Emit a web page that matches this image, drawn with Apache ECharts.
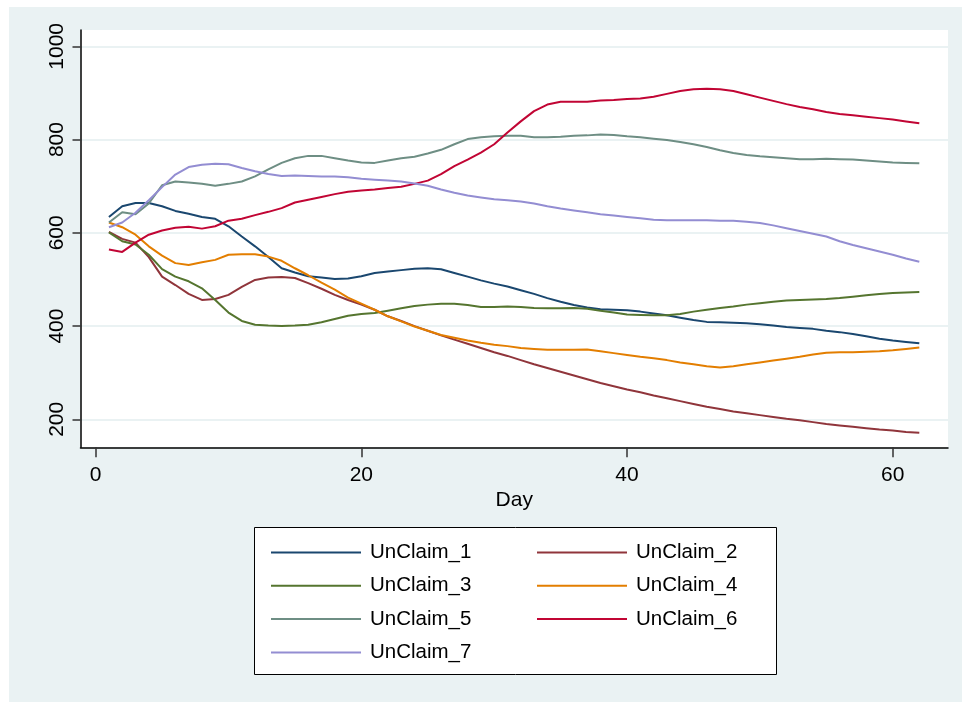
<!DOCTYPE html>
<html>
<head>
<meta charset="utf-8">
<script src="https://cdn.jsdelivr.net/npm/echarts@6/dist/echarts.min.js"></script>
<style>
html, body { margin: 0; padding: 0; background: #fff; }
#chart { width: 962px; height: 702px; }
</style>
</head>
<body>
<div id="chart"></div>
<script>
// values read per day (day 1 .. 62)
const unClaim1 = [634, 657, 664, 664, 657, 647, 641, 634, 630, 614, 592, 571, 548, 524, 515, 507, 504, 501, 502, 507,
  514, 517, 520, 523, 524, 522, 514, 506, 498, 491, 485, 477, 469, 460, 452, 445, 440, 436, 435, 434,
  431, 427, 423, 418, 413, 409, 408, 407, 406, 404, 401, 398, 396, 394, 390, 387, 383, 378, 373, 369, 366, 363];
const unClaim2 = [602, 587, 579, 548, 506, 488, 469, 456, 458, 467, 484, 499, 504, 505, 503, 492, 480, 467, 456, 446,
  435, 421, 411, 400, 390, 380, 371, 362, 353, 344, 336, 327, 318, 310, 302, 294, 286, 278, 271, 264,
  258, 251, 245, 239, 233, 227, 222, 217, 213, 209, 205, 201, 198, 194, 190, 187, 184, 181, 178, 176, 173, 171];
const unClaim3 = [601, 582, 575, 553, 522, 506, 496, 481, 456, 429, 411, 403, 401, 400, 401, 403, 408, 415, 422, 426,
  428, 433, 438, 443, 446, 448, 448, 445, 441, 441, 442, 441, 439, 438, 438, 439, 437, 433, 429, 425,
  424, 423, 423, 426, 431, 435, 439, 442, 446, 449, 452, 455, 456, 457, 458, 460, 463, 466, 469, 471, 472, 473];
const unClaim4 = [622, 612, 596, 571, 551, 535, 531, 537, 542, 553, 554, 554, 549, 540, 524, 509, 493, 478, 461, 448,
  435, 421, 410, 399, 390, 381, 375, 369, 364, 360, 357, 353, 351, 349, 349, 349, 350, 346, 342, 338,
  334, 331, 327, 322, 318, 314, 311, 314, 318, 322, 326, 330, 334, 339, 343, 344, 344, 345, 346, 348, 351, 354];
const unClaim5 = [622, 644, 640, 663, 702, 710, 708, 705, 701, 705, 710, 721, 736, 750, 760, 765, 765, 760, 755, 751,
  750, 755, 760, 763, 770, 778, 790, 801, 805, 807, 808, 808, 805, 805, 806, 808, 809, 811, 810, 807,
  805, 802, 799, 795, 790, 784, 777, 771, 767, 764, 762, 760, 758, 758, 759, 758, 757, 755, 753, 751, 750, 749];
const unClaim6 = [564, 559, 579, 596, 605, 611, 613, 609, 614, 626, 630, 638, 645, 653, 665, 671, 677, 683, 688, 691,
  693, 696, 699, 705, 712, 726, 743, 757, 772, 790, 815, 839, 861, 875, 881, 881, 881, 884, 885, 887,
  888, 892, 898, 904, 908, 909, 908, 904, 897, 890, 883, 876, 870, 865, 859, 855, 852, 849, 846, 843, 839, 835];
const unClaim7 = [612, 622, 643, 670, 698, 725, 741, 746, 748, 747, 739, 732, 726, 722, 723, 722, 721, 721, 719, 716,
  714, 712, 710, 706, 701, 693, 686, 680, 676, 672, 670, 667, 663, 657, 652, 648, 644, 640, 637, 634,
  631, 628, 627, 627, 627, 627, 626, 626, 624, 621, 616, 610, 604, 598, 592, 582, 574, 567, 560, 553, 545, 538];

const seriesNames = ['UnClaim_1', 'UnClaim_2', 'UnClaim_3', 'UnClaim_4', 'UnClaim_5', 'UnClaim_6', 'UnClaim_7'];
const seriesColors = ['#1a476f', '#90353b', '#55752f', '#e37e00', '#6e8e84', '#c10534', '#938dd2'];
const xTicks = [0, 20, 40, 60];
const yTicks = [200, 400, 600, 800, 1000];

const allValues = [unClaim1, unClaim2, unClaim3, unClaim4, unClaim5, unClaim6, unClaim7];
const days = unClaim1.map((v, i) => i + 1);

const font = 'Liberation Sans, Arial, Helvetica, sans-serif';
const chart = echarts.init(document.getElementById('chart'));

const legendText = {
  fontFamily: font,
  fontSize: 20.5,
  color: '#000',
  lineHeight: 20,
  padding: [0, 0, 0, 4]
};

// two columns of legend entries, boxed together
const legendCol = (names, left) => ({
  data: names,
  orient: 'vertical',
  left: left,
  top: 537,
  icon: 'rect',
  itemWidth: 90,
  itemHeight: 2,
  itemGap: 12.3,
  selectedMode: false,
  textStyle: legendText
});

chart.setOption({
  animation: false,
  backgroundColor: '#fff',
  textStyle: { fontFamily: font },
  graphic: [
    {
      type: 'rect',
      z: -10,
      silent: true,
      shape: { x: 9, y: 7, width: 953, height: 695 },
      style: { fill: '#eaf2f3' }
    },
    {
      type: 'rect',
      z: 1,
      silent: true,
      shape: { x: 254.5, y: 527.5, width: 522, height: 147 },
      style: { fill: '#fff', stroke: '#000', lineWidth: 1 }
    }
  ],
  grid: {
    left: 80.5,
    right: 14,
    top: 30,
    bottom: 254.7,
    show: true,
    backgroundColor: '#fff',
    borderWidth: 0
  },
  legend: [
    legendCol(['UnClaim_1', 'UnClaim_3', 'UnClaim_5', 'UnClaim_7'], 266),
    legendCol(['UnClaim_2', 'UnClaim_4', 'UnClaim_6'], 532)
  ],
  xAxis: {
    type: 'value',
    min: -1.14,
    max: 64.16,
    name: 'Day',
    nameLocation: 'middle',
    nameGap: 41,
    nameTextStyle: { fontFamily: font, fontSize: 21, color: '#000' },
    axisLine: { show: true, onZero: false, lineStyle: { color: '#000', width: 1.5 } },
    axisTick: { show: true, customValues: xTicks, length: 10, lineStyle: { color: '#333', width: 1.5 } },
    axisLabel: { customValues: xTicks, margin: 17, fontSize: 21, lineHeight: 21, color: '#000', fontFamily: font },
    splitLine: { show: false }
  },
  yAxis: {
    type: 'value',
    min: 140,
    max: 1035,
    axisLine: { show: true, onZero: false, lineStyle: { color: '#000', width: 1.5 } },
    axisTick: { show: true, customValues: yTicks, length: 8, lineStyle: { color: '#333', width: 1.5 } },
    axisLabel: {
      customValues: yTicks,
      formatter: v => String(v),
      rotate: 90,
      margin: 13,
      fontSize: 21,
      lineHeight: 21,
      color: '#000',
      fontFamily: font
    },
    splitLine: { show: true, lineStyle: { color: '#eaf2f3', width: 2 } }
  },
  series: allValues.map((vals, k) => ({
    name: seriesNames[k],
    type: 'line',
    symbol: 'none',
    color: seriesColors[k],
    lineStyle: { color: seriesColors[k], width: 2 },
    data: days.map((d, i) => [d, vals[i]])
  }))
});
</script>
</body>
</html>
